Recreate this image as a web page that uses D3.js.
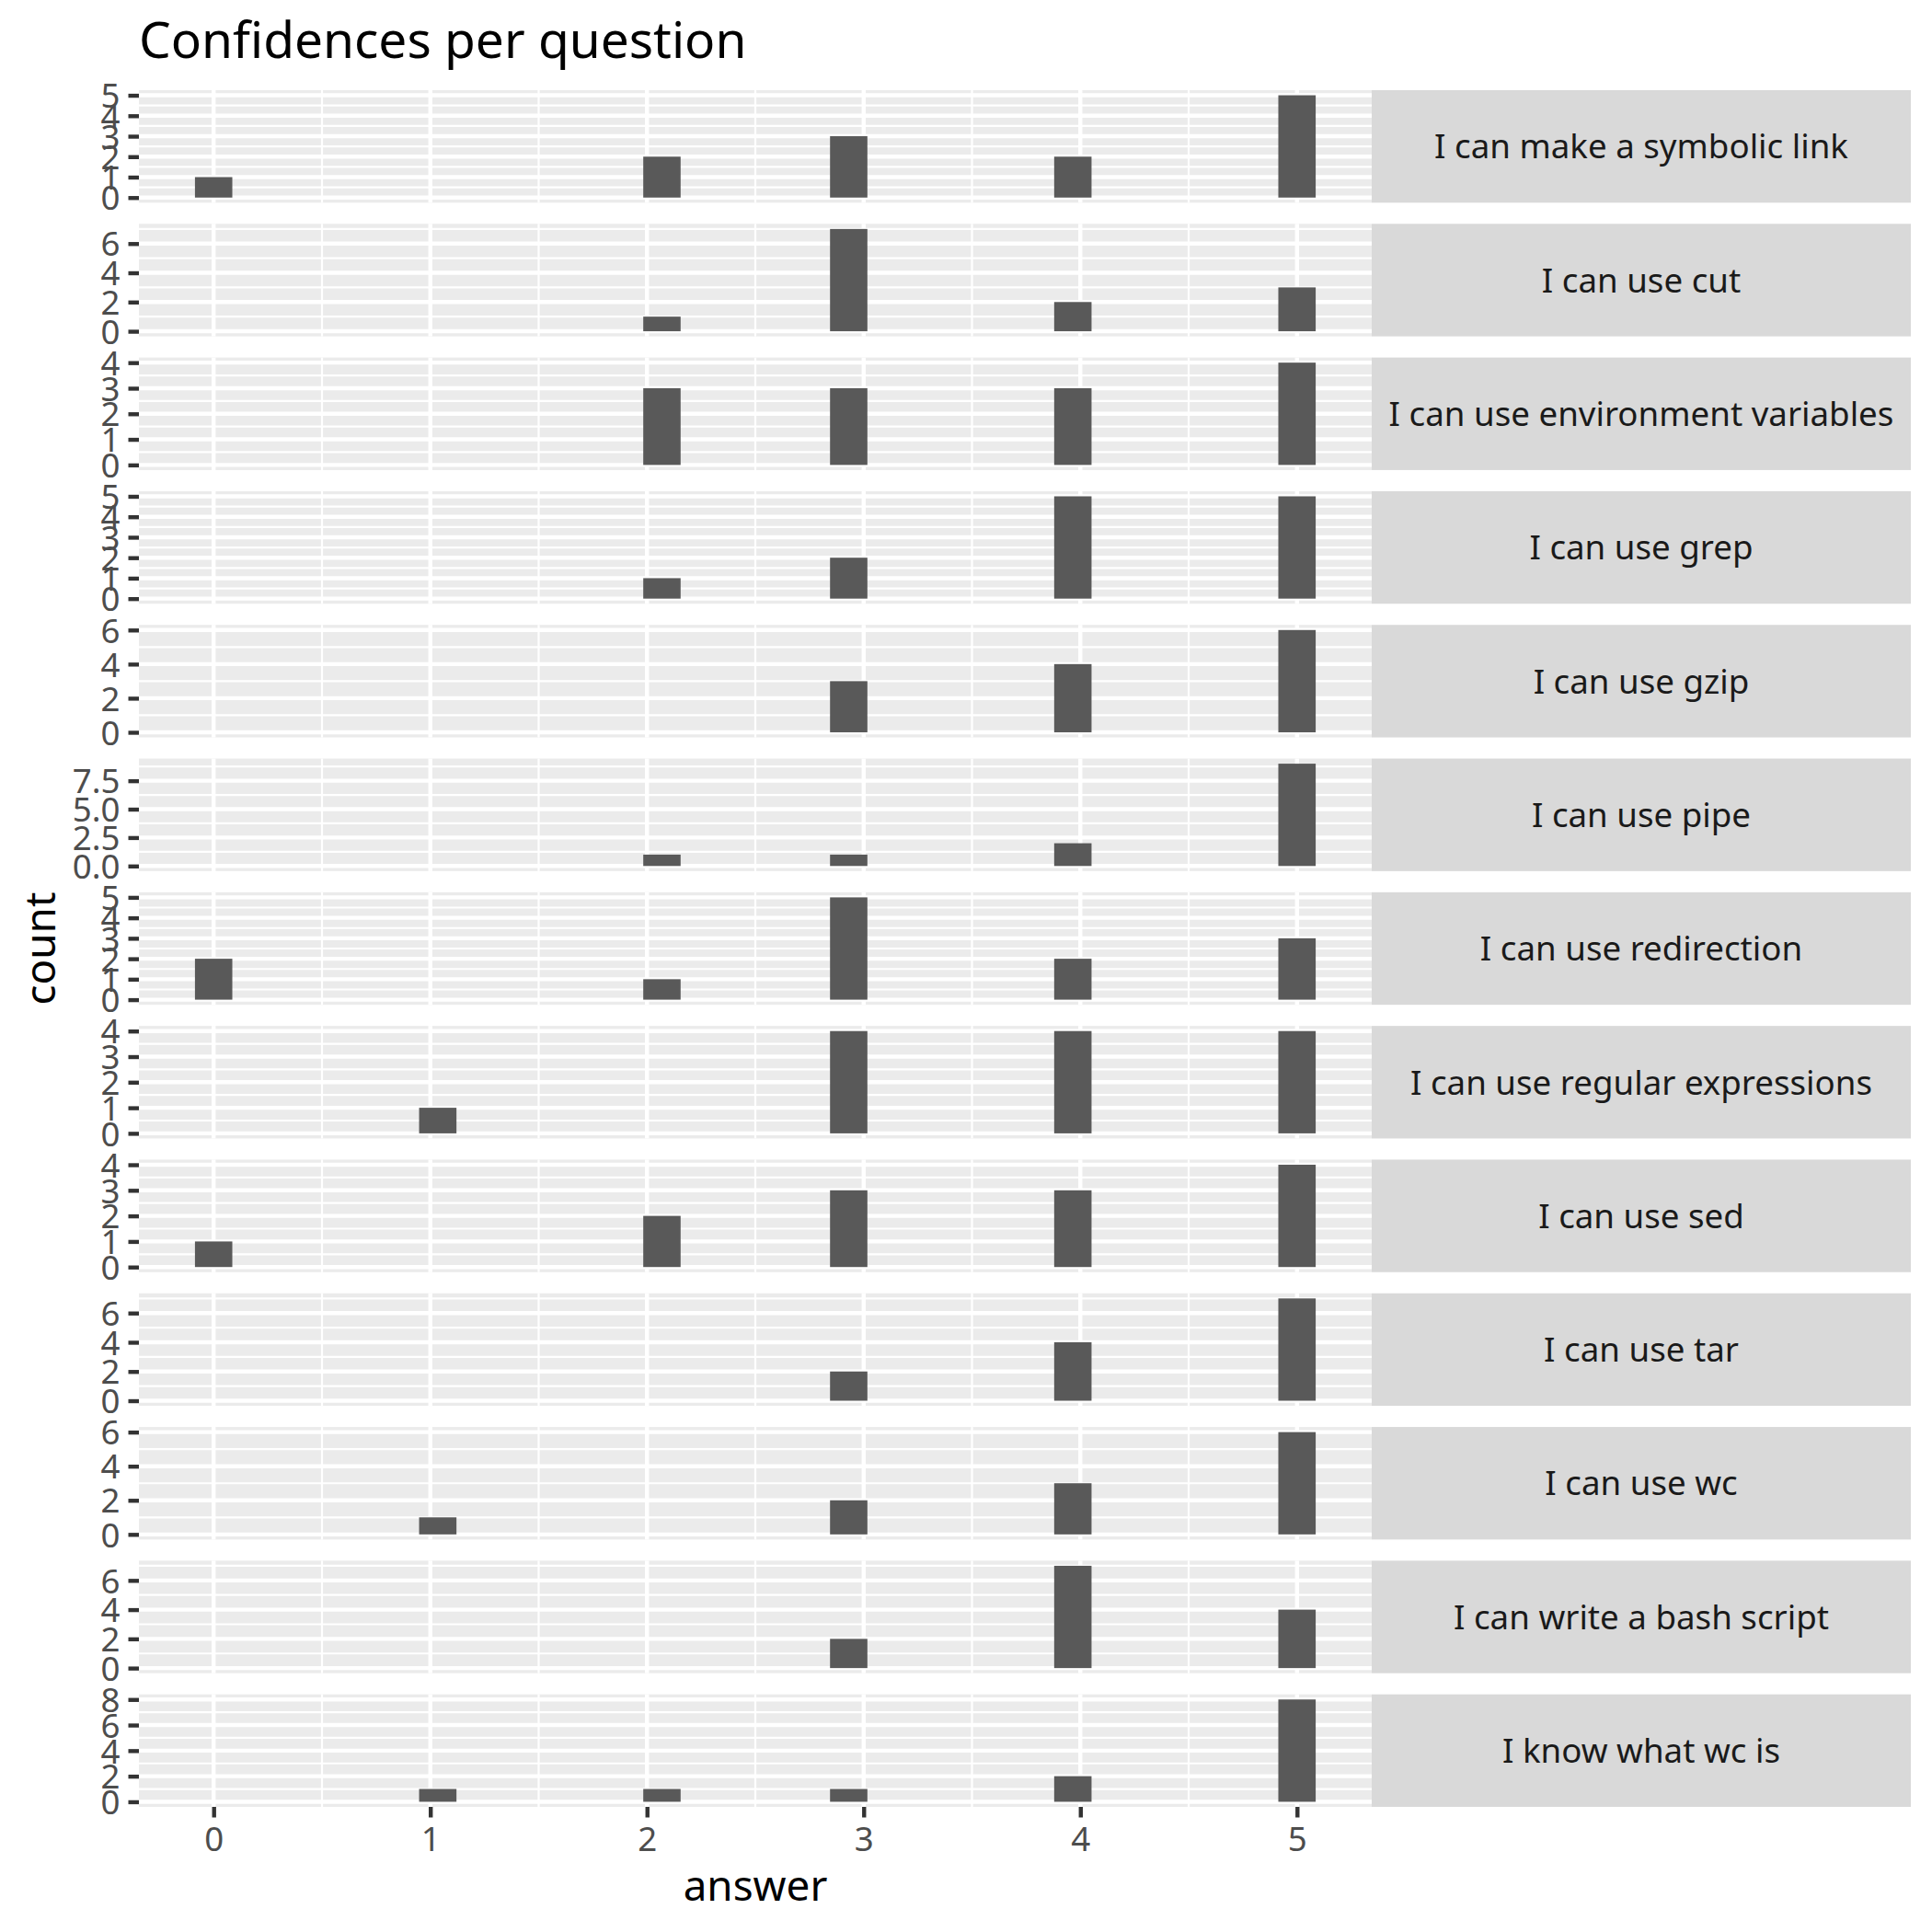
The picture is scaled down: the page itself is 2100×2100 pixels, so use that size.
<!DOCTYPE html>
<html lang="en">
<head>
<meta charset="UTF-8">
<title>Confidences per question</title>
<style>
  body { margin: 0; background: #fff; }
  svg { display: block; font-family: "Noto Sans", "Open Sans", sans-serif; }
  .panel-bg { fill: #EBEBEB; }
  .grid-major { stroke: #fff; stroke-width: 4.4; }
  .grid-minor { stroke: #fff; stroke-width: 2.2; }
  .bar { fill: #595959; }
  .strip { fill: #D9D9D9; }
  .strip-text { fill: #1A1A1A; font-size: 36.7px; }
  .axis text { fill: #4D4D4D; font-size: 36.7px; font-family: "Noto Sans", "Open Sans", sans-serif; }
  .axis line { stroke: #333333; stroke-width: 4.4; }
</style>
</head>
<body>
<svg></svg>
<script src="https://d3js.org/d3.v7.min.js"></script>
<script>
// one facet per question, counts of answers 0..5
var questions = [
  "I can make a symbolic link",
  "I can use cut",
  "I can use environment variables",
  "I can use grep",
  "I can use gzip",
  "I can use pipe",
  "I can use redirection",
  "I can use regular expressions",
  "I can use sed",
  "I can use tar",
  "I can use wc",
  "I can write a bash script",
  "I know what wc is"
];
var answers = [0, 1, 2, 3, 4, 5];
var counts = [
  [1, 0, 2, 3, 2, 5],
  [0, 0, 1, 7, 2, 3],
  [0, 0, 3, 3, 3, 4],
  [0, 0, 1, 2, 5, 5],
  [0, 0, 0, 3, 4, 6],
  [0, 0, 1, 1, 2, 9],
  [2, 0, 1, 5, 2, 3],
  [0, 1, 0, 4, 4, 4],
  [1, 0, 2, 3, 3, 4],
  [0, 0, 0, 2, 4, 7],
  [0, 1, 0, 2, 3, 6],
  [0, 0, 0, 2, 7, 4],
  [0, 1, 1, 1, 2, 8]
];
var yTicks = [
  [0, 1, 2, 3, 4, 5],
  [0, 2, 4, 6],
  [0, 1, 2, 3, 4],
  [0, 1, 2, 3, 4, 5],
  [0, 2, 4, 6],
  [0, 2.5, 5, 7.5],
  [0, 1, 2, 3, 4, 5],
  [0, 1, 2, 3, 4],
  [0, 1, 2, 3, 4],
  [0, 2, 4, 6],
  [0, 2, 4, 6],
  [0, 2, 4, 6],
  [0, 2, 4, 6, 8]
];
var xTicks = [0, 1, 2, 3, 4, 5];

var width = 2100, height = 2100;
var panelLeft = 151, panelRight = 1491, stripRight = 2077;
var panelTop = 98, panelBottom = 1964, gap = 23;
var n = questions.length;
var ph = (panelBottom - panelTop - gap * (n - 1)) / n;

var svg = d3.select("svg").attr("width", width).attr("height", height);

// histogram with 30 bins over the answer range
var nbins = 30;
var lo = d3.min(answers), hi = d3.max(answers);
var bw = (hi - lo) / (nbins - 1);
var xlo = lo - bw / 2, xhi = hi + bw / 2, xpad = (xhi - xlo) * 0.05;
var x = d3.scaleLinear().domain([xlo - xpad, xhi + xpad]).range([panelLeft, panelRight]);
var binCenter = a => lo + Math.round((a - lo) / bw) * bw;

var xMinor = d3.range(xTicks.length - 1).map(i => (xTicks[i] + xTicks[i + 1]) / 2);

questions.forEach((q, i) => {
  var y0 = panelTop + i * (ph + gap);
  var ymax = d3.max(counts[i]);
  var y = d3.scaleLinear().domain([-0.05 * ymax, ymax * 1.05]).range([y0 + ph, y0]);
  var g = svg.append("g");

  g.append("rect").attr("class", "panel-bg")
    .attr("x", panelLeft).attr("y", y0).attr("width", panelRight - panelLeft).attr("height", ph);

  var tk = yTicks[i];
  var step = tk[1] - tk[0];
  var yMinor = d3.range(tk.length + 1).map(k => tk[0] + (k - 0.5) * step)
    .filter(v => v > y.domain()[0] && v < y.domain()[1]);

  g.selectAll(".ymin").data(yMinor).enter().append("line").attr("class", "grid-minor")
    .attr("x1", panelLeft).attr("x2", panelRight).attr("y1", d => y(d)).attr("y2", d => y(d));
  g.selectAll(".xmin").data(xMinor).enter().append("line").attr("class", "grid-minor")
    .attr("x1", d => x(d)).attr("x2", d => x(d)).attr("y1", y0).attr("y2", y0 + ph);
  g.selectAll(".ymaj").data(tk).enter().append("line").attr("class", "grid-major")
    .attr("x1", panelLeft).attr("x2", panelRight).attr("y1", d => y(d)).attr("y2", d => y(d));
  g.selectAll(".xmaj").data(xTicks).enter().append("line").attr("class", "grid-major")
    .attr("x1", d => x(d)).attr("x2", d => x(d)).attr("y1", y0).attr("y2", y0 + ph);

  var bars = answers.map((a, j) => ({ a: a, c: counts[i][j] })).filter(d => d.c > 0);
  g.selectAll(".bar").data(bars).enter().append("rect").attr("class", "bar")
    .attr("x", d => x(binCenter(d.a) - bw / 2))
    .attr("width", d => x(binCenter(d.a) + bw / 2) - x(binCenter(d.a) - bw / 2))
    .attr("y", d => y(d.c))
    .attr("height", d => y(0) - y(d.c));

  // strip on the right
  g.append("rect").attr("class", "strip")
    .attr("x", panelRight).attr("y", y0).attr("width", stripRight - panelRight).attr("height", ph);
  g.append("text").attr("class", "strip-text")
    .attr("x", (panelRight + stripRight) / 2).attr("y", y0 + ph / 2)
    .attr("dy", "0.36em").attr("text-anchor", "middle").text(q);

  var fmt = tk.some(v => v % 1 !== 0) ? d3.format(".1f") : d3.format("d");
  var ax = g.append("g").attr("class", "axis")
    .attr("transform", "translate(" + panelLeft + ",0)")
    .call(d3.axisLeft(y).tickValues(tk).tickSize(11.5).tickPadding(9).tickFormat(fmt));
  ax.select(".domain").remove();
  ax.selectAll("text").attr("dy", "0.36em");
});

var xa = svg.append("g").attr("class", "axis")
  .attr("transform", "translate(0," + panelBottom + ")")
  .call(d3.axisBottom(x).tickValues(xTicks).tickSize(11.5).tickPadding(9).tickFormat(d3.format("d")));
xa.select(".domain").remove();
xa.selectAll("text").attr("dy", "0.76em");

svg.append("text")
  .attr("x", panelLeft).attr("y", 63)
  .attr("font-size", 55).attr("fill", "#000")
  .text("Confidences per question");

svg.append("text")
  .attr("x", (panelLeft + panelRight) / 2).attr("y", 2066)
  .attr("text-anchor", "middle").attr("font-size", 45.8).attr("fill", "#000")
  .text("answer");

svg.append("text")
  .attr("transform", "translate(60," + (panelTop + panelBottom) / 2 + ") rotate(-90)")
  .attr("text-anchor", "middle").attr("font-size", 45.8).attr("fill", "#000")
  .text("count");
</script>
</body>
</html>
